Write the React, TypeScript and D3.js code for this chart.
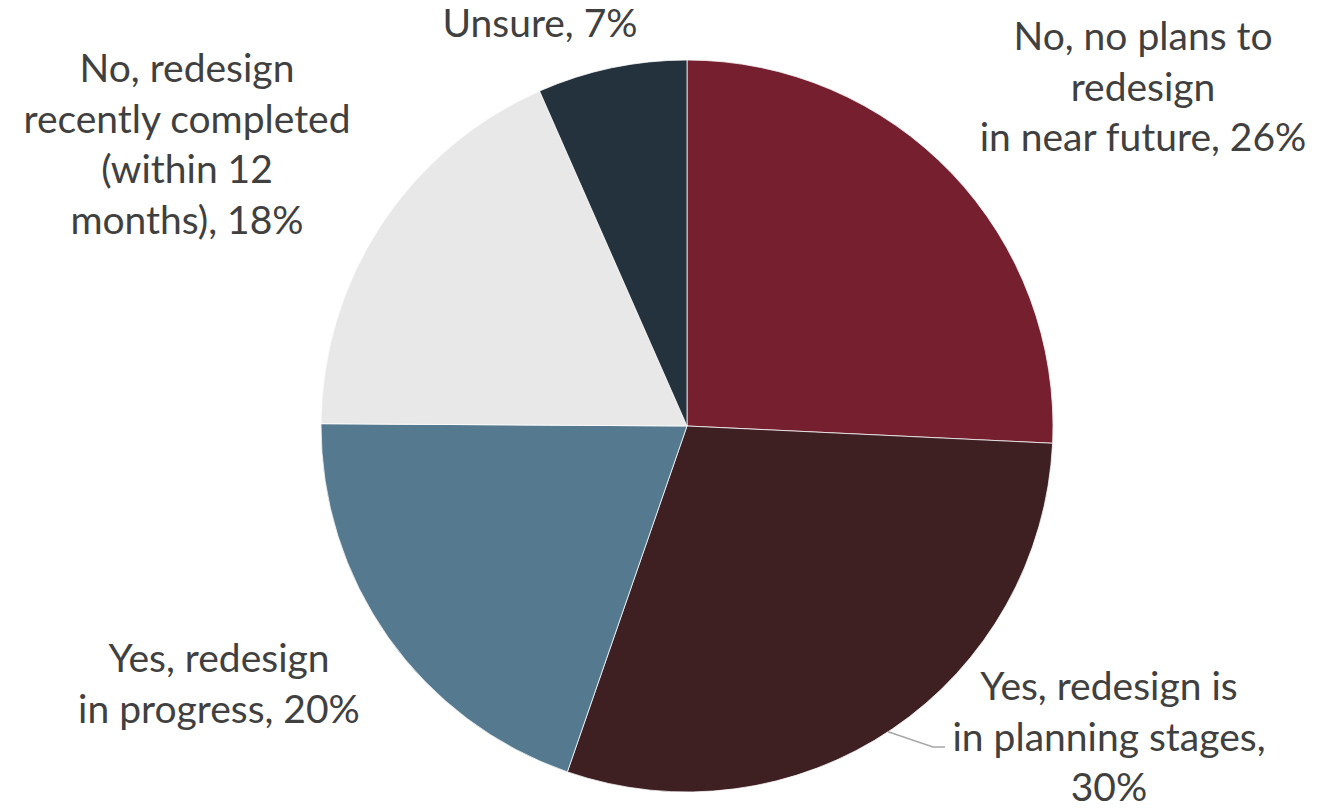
import * as React from 'react';
import * as d3 from 'd3';

// slice order: clockwise from 12 o'clock
const categories = [
    'No, no plans to redesign in near future',
    'Yes, redesign is in planning stages',
    'Yes, redesign in progress',
    'No, redesign recently completed (within 12 months)',
    'Unsure',
];
const shares = [25.75, 29.55, 19.8, 18.3, 6.6];
const labelLines = [
    ['No, no plans to', 'redesign', 'in near future, 26%'],
    ['Yes, redesign is', 'in planning stages,', '30%'],
    ['Yes, redesign', 'in progress, 20%'],
    ['No, redesign', 'recently completed', '(within 12', 'months), 18%'],
    ['Unsure, 7%'],
];
const colors = ['#76202f', '#3e1f22', '#557a8f', '#e8e8e8', '#24323d'];

// label block anchors (centre x, first baseline y)
const labelAnchors = [
    { x: 1143, y: 50 },
    { x: 1109, y: 700 },
    { x: 219, y: 672 },
    { x: 187, y: 82 },
    { x: 540, y: 37 },
];

const width = 1320;
const height = 811;
const cx = 687;
const cy = 426;
const radius = 366;
const lineHeight = 50.5;

export default function App() {
    const pie = d3.pie<number>().sort(null).value(d => d);
    const arcs = pie(shares);
    const arc = d3.arc<d3.PieArcDatum<number>>().innerRadius(0).outerRadius(radius);

    // leader line for the planning-stages slice
    const leaderAngle = 2.56;
    const edge = [cx + radius * Math.sin(leaderAngle), cy - radius * Math.cos(leaderAngle)];
    const leader = d3.line()([
        [edge[0], edge[1]],
        [933, 747],
        [945, 747],
    ]);

    return (
        <svg width={width} height={height}
            style={{ position: 'absolute', left: 0, top: 0, background: '#fff' }}>
            <g transform={`translate(${cx},${cy})`}>
                {arcs.map((a, i) => (
                    <path key={categories[i]} d={arc(a) || ''} fill={colors[i]}
                        stroke="#fff" strokeWidth={0.75} />
                ))}
            </g>
            <path d={leader || ''} fill="none" stroke="#a6a6a6" strokeWidth={1.5} />
            {labelLines.map((lines, i) => (
                <text key={i} x={labelAnchors[i].x} y={labelAnchors[i].y}
                    textAnchor="middle" fill="#404040"
                    style={{ fontFamily: 'Lato, "Open Sans", sans-serif', fontSize: 39 }}>
                    {lines.map((l, j) => (
                        <tspan key={j} x={labelAnchors[i].x} y={labelAnchors[i].y + j * lineHeight}>{l}</tspan>
                    ))}
                </text>
            ))}
        </svg>
    );
}
